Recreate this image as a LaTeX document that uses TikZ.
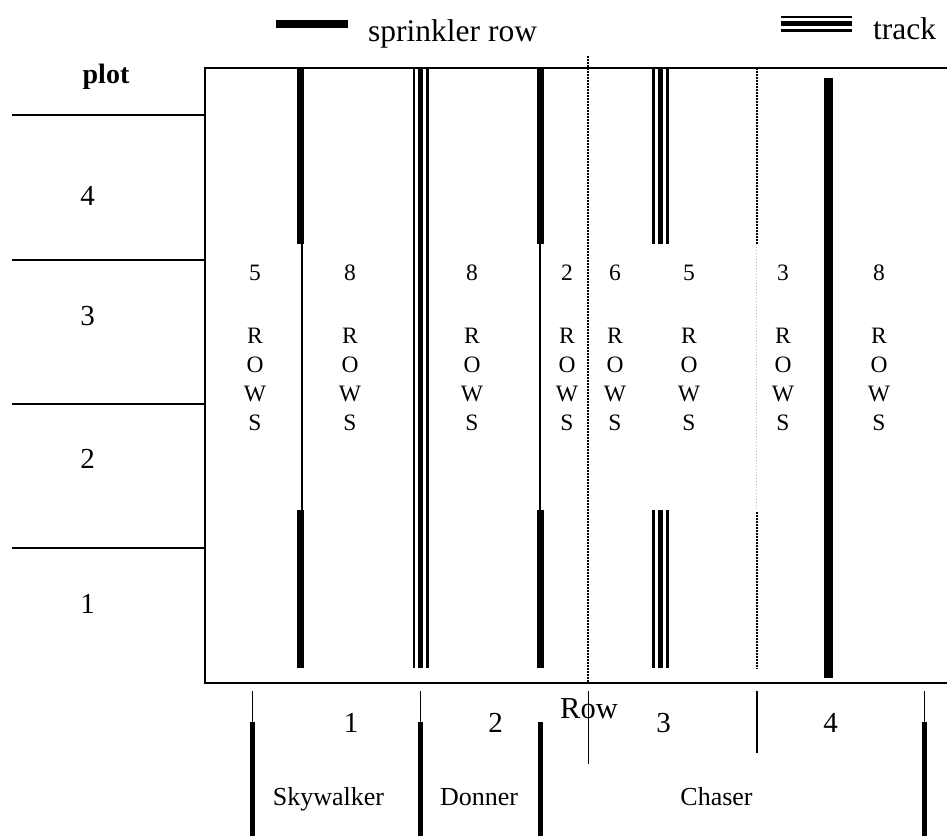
\documentclass[tikz,border=0pt]{standalone}
\usepackage{fontspec}
\setmainfont{Liberation Serif}
\newcommand\fsz[1]{\fontsize{#1}{#1}\selectfont}
% vertical track: x, y1, y2
\newcommand\vtrack[3]{%
  \draw[trackthin] (#1-6.8,#2) -- (#1-6.8,#3);
  \draw[trackthick] (#1,#2) -- (#1,#3);
  \draw[trackthin] (#1+6.8,#2) -- (#1+6.8,#3);}
\begin{document}
\begin{tikzpicture}[x=1pt,y=-1pt,
  frame/.style={line width=2pt},
  plotline/.style={line width=1.8pt},
  sprink/.style={line width=7.6pt},
  sprinkthin/.style={line width=2.3pt},
  trackthin/.style={line width=2.6pt},
  trackthick/.style={line width=5.6pt},
  dotline/.style={line width=1.7pt, dash pattern=on 1.5pt off 1.5pt},
  faintdots/.style={line width=1.2pt, gray!55, dash pattern=on 1.2pt off 1.8pt},
  tick/.style={line width=1.6pt},
  bigtick/.style={line width=5pt},
  rowtxt/.style={anchor=base, inner sep=0pt, font=\fsz{23.5}},
  lbl/.style={anchor=base, inner sep=0pt, font=\fsz{29}},
  teamlbl/.style={anchor=base, inner sep=0pt, font=\fsz{26}},
  legtxt/.style={anchor=base west, inner sep=0pt, font=\fsz{31.5}}]
\useasboundingbox (0,0) rectangle (947,836);

% legend
\draw[line width=8pt] (276,24) -- (348,24);
\node[legtxt] (legS) at (368,41.5) {sprinkler row};
\draw[trackthin] (781,16.9) -- (852,16.9);
\draw[trackthick] (781,23.5) -- (852,23.5);
\draw[trackthin] (781,30.3) -- (852,30.3);
\node[legtxt] (legT) at (873,39.5) {track};

% plot column
\node[anchor=base, inner sep=0pt, font=\fsz{28}\bfseries] (plot) at (106,83.5) {plot};
\foreach \yy in {115,260,404,548} {\draw[plotline] (12,\yy) -- (205,\yy);}
\node[lbl] (p4) at (87.5,205) {4};
\node[lbl] (p3) at (87.5,325) {3};
\node[lbl] (p2) at (87.5,468) {2};
\node[lbl] (p1) at (87.5,613) {1};

% frame
\draw[frame] (947,68) -- (204.5,68) -- (204.5,683) -- (947,683);

% dotted dividers
\draw[dotline] (588.3,56) -- (588.3,683);
\draw[dotline] (756.8,68) -- (756.8,244);
\draw[faintdots] (756.8,244) -- (756.8,510);
\draw[dotline] (756.8,512) -- (756.8,669);

% sprinkler rows
\draw[sprink] (300.5,68) -- (300.5,244);
\draw[sprinkthin] (302.2,244) -- (302.2,510);
\draw[sprink] (300.5,510) -- (300.5,668);
\draw[sprink] (540.5,68) -- (540.5,244);
\draw[sprinkthin] (540.2,244) -- (540.2,510);
\draw[sprink] (540.5,510) -- (540.5,668);
\draw[line width=8.4pt] (828.5,78) -- (828.5,678);

% tracks
\vtrack{420.6}{68}{668}
\vtrack{660.5}{68}{244}
\vtrack{660.5}{510}{668}

% row counts
\foreach \n/\x/\d in {1/255/5, 2/350/8, 3/472/8, 4/567/2, 5/615/6, 6/689/5, 7/783/3, 8/879/8} {
  \node[rowtxt] (d\n) at (\x,280) {\d};
  \node[rowtxt] (r\n) at (\x,343) {R};
  \node[rowtxt] (o\n) at (\x,372.3) {O};
  \node[rowtxt] (w\n) at (\x,401.6) {W};
  \node[rowtxt] (s\n) at (\x,430.9) {S};
}

% bottom axis
\foreach \x in {252.5,420.5,924.5} {\draw[tick] (\x,691) -- (\x,722);}
\draw[tick] (588.3,691) -- (588.3,764);
\draw[tick] (756.8,691) -- (756.8,753);
\foreach \x in {252.5,420.5,540.4,924.5} {\draw[bigtick] (\x,722) -- (\x,836);}
\node[lbl] (b1) at (351,732) {1};
\node[lbl] (b2) at (495.5,732) {2};
\node[anchor=base, inner sep=0pt, font=\fsz{30.5}] (row) at (589,718) {Row};
\node[lbl] (b3) at (663.5,732) {3};
\node[lbl] (b4) at (830.5,732) {4};
\node[teamlbl] (sky) at (328.5,805) {Skywalker};
\node[teamlbl] (don) at (479,805) {Donner};
\node[teamlbl] (cha) at (716.5,805) {Chaser};
\end{tikzpicture}
\end{document}
